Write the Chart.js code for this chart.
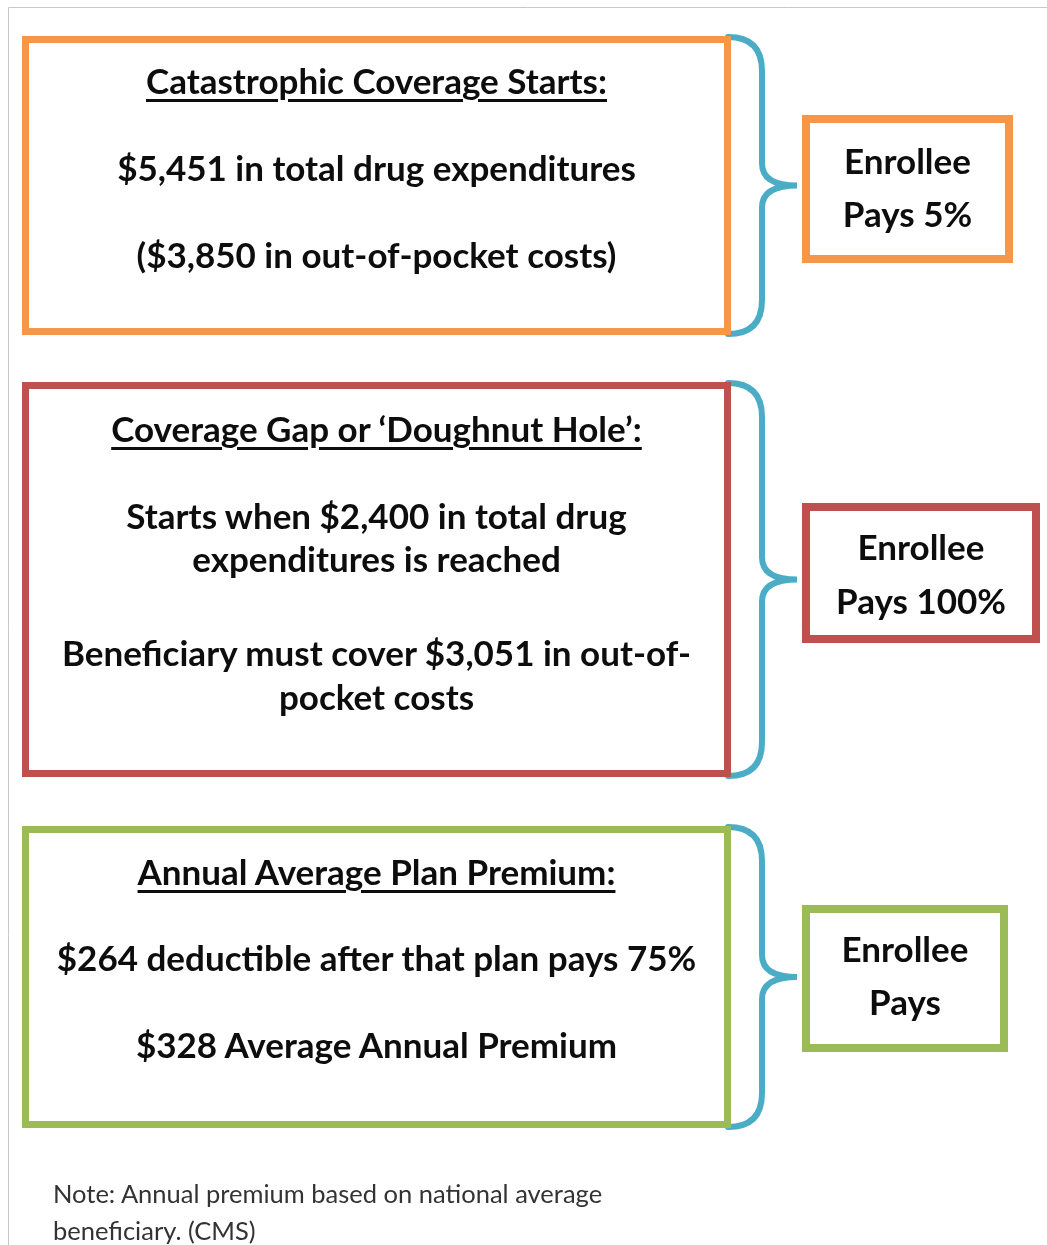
<!DOCTYPE html>
<html>
<head>
<meta charset="utf-8">
<script src="https://cdn.jsdelivr.net/npm/chart.js@4.4.1/dist/chart.umd.min.js"></script>
<style>
  html, body { margin: 0; padding: 0; background: #fff; }
  #wrap { position: relative; width: 1047px; height: 1245px; overflow: hidden; }
  #c { position: absolute; left: 0; top: 0; }
  .t { position: absolute; text-align: center; font-family: Lato, "Open Sans", sans-serif; font-weight: 700; color: #0d0d0d; white-space: nowrap; }
  .u { text-decoration: underline; text-decoration-thickness: 3px; text-underline-offset: 5px; }
  .note { position: absolute; font-family: Lato, "Open Sans", sans-serif; font-weight: 400; color: #333; white-space: nowrap; }
</style>
</head>
<body>
<div id="wrap">
  <canvas id="c" width="1047" height="1245"></canvas>
</div>
<script>
// ---- content ----
const sectionTitles = [
  "Catastrophic Coverage Starts:",
  "Coverage Gap or \u2018Doughnut Hole\u2019:",
  "Annual Average Plan Premium:"
];
const sectionLines = [
  ["$5,451 in total drug expenditures", "($3,850 in out-of-pocket costs)"],
  ["Starts when $2,400 in total drug", "expenditures is reached", "Beneficiary must cover $3,051 in out-of-", "pocket costs"],
  ["$264 deductible after that plan pays 75%", "$328 Average Annual Premium"]
];
const payLabels = [
  ["Enrollee", "Pays 5%"],
  ["Enrollee", "Pays 100%"],
  ["Enrollee", "Pays"]
];
const noteLines = ["Note: Annual premium based on national average", "beneficiary. (CMS)"];

// ---- layout & style (not data) ----
const sectionColors = ["#F79646", "#C0504D", "#9BBB59"];
const braceColor = "#4BACC6";
const boxLayout = [
  { x0: 22, x1: 731, y0: 36, y1: 335, titleY: 80, lineY: [167, 254], payBox: [802, 115, 1013, 263], payY: [160, 213] },
  { x0: 22, x1: 731, y0: 382, y1: 777, titleY: 428, lineY: [515, 558, 652, 696], payBox: [802, 503, 1040, 643], payY: [546, 600] },
  { x0: 22, x1: 731, y0: 826, y1: 1128, titleY: 871, lineY: [957, 1044], payBox: [802, 905, 1008, 1052], payY: [948, 1001] }
];
const noteY = [1193, 1230];
const mainFont = 35;

const wrap = document.getElementById('wrap');
function addText(txt, cls, left, width, cy, size) {
  const d = document.createElement('div');
  d.className = cls;
  d.textContent = txt;
  d.style.left = left + 'px';
  d.style.width = width + 'px';
  d.style.fontSize = size + 'px';
  d.style.lineHeight = '44px';
  d.style.top = (cy - 22) + 'px';
  wrap.appendChild(d);
}

const framePlugin = {
  id: 'frame',
  afterDraw(chart) {
    const ctx = chart.ctx;
    const X = v => chart.scales.x.getPixelForValue(v);
    const Y = v => chart.scales.y.getPixelForValue(v);
    ctx.save();
    // page frame
    ctx.strokeStyle = '#c8c8c8';
    ctx.lineWidth = 1;
    ctx.beginPath();
    ctx.moveTo(X(8.5), Y(1245));
    ctx.lineTo(X(8.5), Y(7.5));
    ctx.lineTo(X(1047), Y(7.5));
    ctx.stroke();

    const lw = 7;
    boxLayout.forEach((b, i) => {
      // brace
      const top = b.y0 + 1, bot = b.y1 - 1, mid = (b.y0 + b.y1) / 2;
      const bx = 762, tip = 797, sx = 728;
      ctx.strokeStyle = braceColor;
      ctx.lineWidth = 6;
      ctx.lineCap = 'round';
      ctx.beginPath();
      ctx.moveTo(X(sx), Y(top));
      ctx.quadraticCurveTo(X(bx), Y(top), X(bx), Y(top + 34));
      ctx.lineTo(X(bx), Y(mid - 22));
      ctx.quadraticCurveTo(X(bx), Y(mid), X(tip), Y(mid));
      ctx.quadraticCurveTo(X(bx), Y(mid), X(bx), Y(mid + 22));
      ctx.lineTo(X(bx), Y(bot - 34));
      ctx.quadraticCurveTo(X(bx), Y(bot), X(sx), Y(bot));
      ctx.stroke();

      // main box
      ctx.strokeStyle = sectionColors[i];
      ctx.lineWidth = lw;
      ctx.lineCap = 'butt';
      ctx.strokeRect(X(b.x0 + lw / 2), Y(b.y0 + lw / 2), X(b.x1) - X(b.x0) - lw, Y(b.y1) - Y(b.y0) - lw);
      // pay box
      const p = b.payBox;
      ctx.lineWidth = 8;
      ctx.strokeRect(X(p[0] + 4), Y(p[1] + 4), X(p[2]) - X(p[0]) - 8, Y(p[3]) - Y(p[1]) - 8);
    });
    ctx.restore();
  }
};

new Chart(document.getElementById('c'), {
  type: 'scatter',
  data: { datasets: [] },
  options: {
    responsive: false,
    animation: false,
    devicePixelRatio: 1,
    layout: { padding: 0 },
    plugins: { legend: { display: false }, tooltip: { enabled: false } },
    scales: {
      x: { type: 'linear', min: 0, max: 1047, display: false },
      y: { type: 'linear', min: 0, max: 1245, reverse: true, display: false }
    }
  },
  plugins: [framePlugin]
});

boxLayout.forEach((b, i) => {
  addText(sectionTitles[i], 't u', b.x0, b.x1 - b.x0, b.titleY, mainFont);
  sectionLines[i].forEach((ln, j) => addText(ln, 't', b.x0, b.x1 - b.x0, b.lineY[j], mainFont));
  const p = b.payBox;
  payLabels[i].forEach((ln, j) => addText(ln, 't', p[0], p[2] - p[0], b.payY[j], mainFont));
});
noteLines.forEach((ln, j) => {
  const d = document.createElement('div');
  d.className = 'note';
  d.textContent = ln;
  d.style.left = '53px';
  d.style.top = (noteY[j] - 16) + 'px';
  d.style.fontSize = '25.5px';
  d.style.lineHeight = '32px';
  wrap.appendChild(d);
});
</script>
</body>
</html>
